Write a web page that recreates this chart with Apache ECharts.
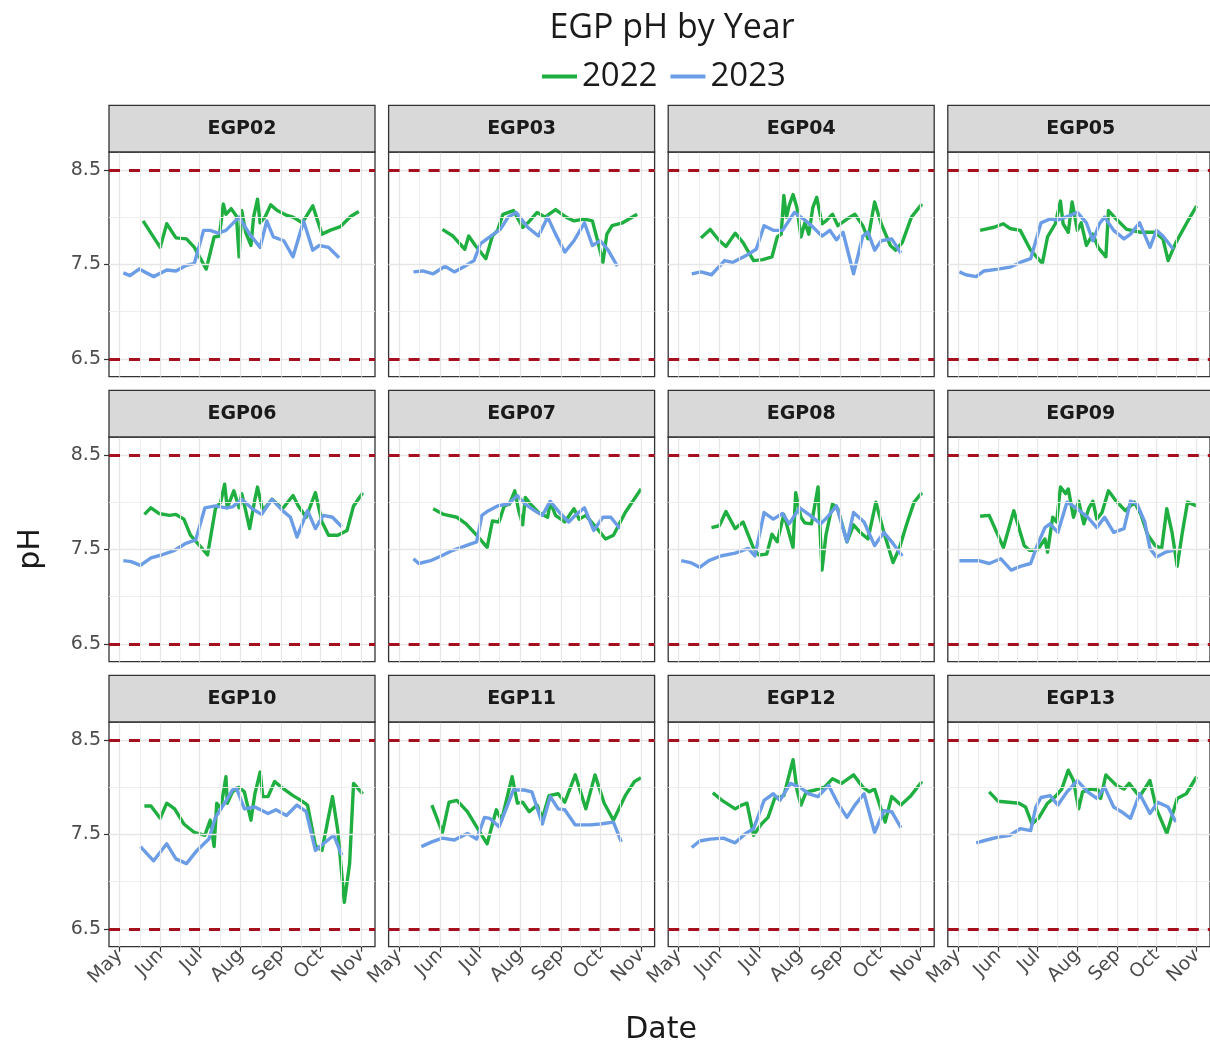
<!DOCTYPE html>
<html>
<head>
<meta charset="utf-8">
<script src="https://cdn.jsdelivr.net/npm/echarts@6/dist/echarts.min.js"></script>
<style>
  html, body { margin: 0; padding: 0; background: #ffffff; }
  #chart { width: 1210px; height: 1049px; }
</style>
</head>
<body>
<div id="chart"></div>
<script>
// Sites (one facet each), years, axis ticks and reference limits
const sites = ['EGP02', 'EGP03', 'EGP04', 'EGP05', 'EGP06', 'EGP07',
               'EGP08', 'EGP09', 'EGP10', 'EGP11', 'EGP12', 'EGP13'];
const years = ['2022', '2023'];
const monthTicks = ['05-01', '06-01', '07-01', '08-01', '09-01', '10-01', '11-01'];
const monthNames = ['May', 'Jun', 'Jul', 'Aug', 'Sep', 'Oct', 'Nov'];
const yTicks = [6.5, 7.5, 8.5];
const yMinor = [7.0, 8.0];
const phLimits = [6.5, 8.5];

// pH readings, [month-day, pH]
const EGP02_2022 = [['05-19',7.96],['06-01',7.68],['06-06',7.93],['06-13',7.78],['06-21',7.77],['06-27',7.68],['07-06',7.45],['07-12',7.79],['07-16',7.80],['07-19',8.14],['07-21',8.03],['07-25',8.09],['07-29',8.01],['07-31',7.58],['08-02',8.07],['08-05',7.84],['08-09',7.70],['08-11',8.00],['08-14',8.19],['08-16',7.94],['08-20',8.01],['08-24',8.13],['08-29',8.07],['09-05',8.02],['09-10',8.00],['09-17',7.94],['09-25',8.12],['10-02',7.82],['10-08',7.86],['10-16',7.90],['10-24',8.01],['10-30',8.06]];
const EGP02_2023 = [['05-04',7.41],['05-09',7.38],['05-16',7.45],['05-27',7.37],['06-06',7.44],['06-13',7.43],['06-21',7.49],['06-27',7.51],['07-04',7.86],['07-09',7.86],['07-15',7.83],['07-21',7.86],['07-31',8.00],['08-08',7.82],['08-16',7.68],['08-21',7.96],['08-26',7.79],['09-03',7.75],['09-10',7.58],['09-18',7.96],['09-25',7.65],['09-30',7.70],['10-07',7.68],['10-15',7.57]];

const EGP03_2022 = [['06-03',7.87],['06-11',7.80],['06-20',7.66],['06-23',7.80],['06-28',7.70],['07-06',7.56],['07-11',7.80],['07-15',7.86],['07-19',8.03],['07-27',8.07],['08-03',7.89],['08-07',7.94],['08-14',8.05],['08-20',8.00],['08-28',8.08],['09-05',8.00],['09-11',7.96],['09-19',7.98],['09-25',7.96],['09-29',7.75],['10-03',7.52],['10-06',7.82],['10-10',7.91],['10-18',7.94],['10-29',8.03]];
const EGP03_2023 = [['05-12',7.42],['05-19',7.43],['05-27',7.40],['06-05',7.48],['06-12',7.42],['06-20',7.48],['06-27',7.54],['07-02',7.72],['07-09',7.79],['07-17',7.87],['07-23',8.00],['07-29',8.05],['08-07',7.89],['08-15',7.80],['08-22',8.00],['08-28',7.82],['09-04',7.63],['09-11',7.75],['09-19',7.94],['09-25',7.70],['10-01',7.75],['10-07',7.65],['10-14',7.48]];

const EGP04_2022 = [['05-18',7.78],['05-25',7.87],['06-01',7.75],['06-06',7.69],['06-13',7.83],['06-19',7.73],['06-27',7.54],['07-04',7.55],['07-11',7.58],['07-15',7.79],['07-18',7.82],['07-20',8.23],['07-22',8.00],['07-24',8.12],['07-27',8.24],['07-30',8.10],['08-02',7.79],['08-05',7.94],['08-08',7.82],['08-11',8.10],['08-14',8.21],['08-18',7.93],['08-21',7.96],['08-26',8.03],['08-30',7.91],['09-06',7.98],['09-12',8.03],['09-18',7.91],['09-22',7.77],['09-27',8.16],['10-02',7.93],['10-09',7.70],['10-13',7.65],['10-18',7.73],['10-25',8.00],['11-02',8.14]];
const EGP04_2023 = [['05-11',7.40],['05-18',7.42],['05-26',7.39],['06-05',7.54],['06-11',7.52],['06-21',7.59],['06-29',7.66],['07-05',7.91],['07-12',7.86],['07-19',7.86],['07-28',8.05],['08-04',7.98],['08-10',7.91],['08-18',7.80],['08-24',7.86],['08-29',7.76],['09-03',7.84],['09-11',7.40],['09-18',7.80],['09-22',7.84],['09-27',7.65],['10-02',7.75],['10-10',7.77],['10-17',7.62]];

const EGP05_2022 = [['05-18',7.86],['05-28',7.89],['06-05',7.93],['06-10',7.88],['06-18',7.86],['06-26',7.65],['07-05',7.51],['07-09',7.79],['07-15',7.93],['07-19',8.17],['07-21',7.93],['07-25',7.84],['07-28',8.16],['08-01',7.86],['08-04',7.94],['08-08',7.70],['08-13',7.82],['08-17',7.68],['08-23',7.58],['08-25',8.07],['08-31',7.98],['09-08',7.87],['09-19',7.84],['09-30',7.84],['10-06',7.77],['10-10',7.54],['10-16',7.73],['10-24',7.93],['11-01',8.12]];
const EGP05_2023 = [['05-02',7.42],['05-07',7.39],['05-15',7.37],['05-21',7.43],['06-01',7.45],['06-10',7.47],['06-18',7.52],['06-26',7.56],['06-30',7.75],['07-04',7.94],['07-11',7.98],['07-17',7.97],['07-25',8.01],['08-01',8.05],['08-08',7.94],['08-13',7.75],['08-18',7.93],['08-22',8.00],['08-29',7.86],['09-06',7.77],['09-11',7.82],['09-18',7.94],['09-26',7.68],['10-01',7.86],['10-06',7.80],['10-14',7.66]];

const EGP06_2022 = [['05-20',7.87],['05-25',7.94],['05-31',7.88],['06-08',7.86],['06-13',7.87],['06-19',7.82],['06-24',7.65],['07-01',7.54],['07-07',7.44],['07-13',7.93],['07-17',8.00],['07-20',8.19],['07-22',7.94],['07-27',8.12],['07-31',7.94],['08-02',8.09],['08-05',7.91],['08-08',7.72],['08-12',8.03],['08-14',8.16],['08-18',7.91],['08-25',8.03],['09-02',7.93],['09-10',8.07],['09-14',7.96],['09-20',7.84],['09-27',8.10],['10-02',7.79],['10-07',7.65],['10-14',7.65],['10-21',7.70],['10-26',7.96],['11-02',8.10]];
const EGP06_2023 = [['05-04',7.38],['05-10',7.37],['05-17',7.33],['05-25',7.41],['06-02',7.44],['06-12',7.49],['06-20',7.56],['06-28',7.60],['07-05',7.94],['07-13',7.96],['07-21',7.94],['07-26',7.95],['08-02',8.03],['08-10',7.93],['08-17',7.87],['08-25',8.03],['09-02',7.91],['09-08',7.84],['09-13',7.63],['09-21',7.91],['09-27',7.72],['10-03',7.86],['10-10',7.84],['10-17',7.74]];

const EGP07_2022 = [['05-27',7.93],['06-04',7.87],['06-14',7.84],['06-21',7.77],['06-29',7.65],['07-07',7.52],['07-11',7.80],['07-16',7.79],['07-20',7.96],['07-24',7.98],['07-28',8.12],['07-31',7.91],['08-03',7.76],['08-05',8.05],['08-09',7.98],['08-15',7.89],['08-22',7.84],['08-24',8.00],['08-28',7.86],['09-04',7.79],['09-11',7.93],['09-15',7.82],['09-20',7.86],['09-28',7.73],['10-05',7.61],['10-11',7.65],['10-20',7.89],['11-01',8.14]];
const EGP07_2023 = [['05-12',7.40],['05-16',7.35],['05-25',7.38],['06-02',7.43],['06-11',7.49],['06-21',7.54],['06-29',7.58],['07-03',7.86],['07-08',7.91],['07-15',7.96],['07-23',7.98],['07-30',8.07],['08-05',7.98],['08-12',7.91],['08-18',7.86],['08-24',8.01],['08-31',7.89],['09-07',7.79],['09-12',7.86],['09-19',7.94],['09-26',7.70],['10-03',7.84],['10-09',7.84],['10-16',7.72]];

const EGP08_2022 = [['05-26',7.73],['06-01',7.75],['06-06',7.90],['06-13',7.72],['06-19',7.79],['06-27',7.51],['07-01',7.44],['07-07',7.45],['07-11',7.66],['07-15',7.58],['07-20',7.87],['07-27',7.52],['07-29',8.10],['08-02',7.84],['08-05',7.78],['08-10',7.77],['08-15',8.16],['08-18',7.28],['08-21',7.65],['08-26',7.98],['08-30',7.93],['09-06',7.58],['09-11',7.76],['09-16',7.68],['09-22',7.61],['09-28',8.00],['10-04',7.68],['10-11',7.36],['10-16',7.52],['10-21',7.75],['10-27',8.00],['11-02',8.10]];
const EGP08_2023 = [['05-03',7.38],['05-10',7.36],['05-17',7.31],['05-24',7.38],['06-02',7.43],['06-13',7.46],['06-23',7.51],['06-28',7.43],['07-05',7.89],['07-12',7.82],['07-19',7.88],['07-24',7.77],['08-01',7.94],['08-09',7.86],['08-17',7.77],['08-22',7.84],['08-29',7.96],['09-06',7.58],['09-11',7.89],['09-19',7.79],['09-27',7.54],['10-04',7.68],['10-10',7.58],['10-18',7.43]];

const EGP09_2022 = [['05-18',7.85],['05-25',7.86],['06-05',7.52],['06-13',7.91],['06-21',7.54],['06-25',7.49],['07-01',7.49],['07-07',7.61],['07-09',7.47],['07-13',7.84],['07-16',7.79],['07-19',8.16],['07-23',8.09],['07-25',8.14],['07-29',7.84],['08-02',8.01],['08-06',7.77],['08-10',7.94],['08-13',8.01],['08-16',7.82],['08-20',7.89],['08-25',8.12],['08-31',8.01],['09-07',7.91],['09-14',8.00],['09-19',7.87],['09-24',7.66],['09-30',7.54],['10-05',7.51],['10-09',7.93],['10-13',7.68],['10-17',7.32],['10-21',7.68],['10-25',8.00],['11-01',7.96]];
const EGP09_2023 = [['05-02',7.38],['05-09',7.38],['05-17',7.38],['05-25',7.35],['06-03',7.40],['06-11',7.28],['06-18',7.32],['06-26',7.35],['07-01',7.54],['07-07',7.73],['07-11',7.77],['07-17',7.68],['07-24',8.00],['07-31',7.94],['08-09',7.84],['08-16',7.73],['08-22',7.84],['08-29',7.68],['09-06',7.72],['09-11',8.01],['09-16',7.98],['09-22',7.79],['09-26',7.51],['10-01',7.42],['10-08',7.47],['10-14',7.49]];

const EGP10_2022 = [['05-20',7.80],['05-25',7.80],['06-01',7.67],['06-06',7.83],['06-12',7.77],['06-19',7.61],['06-27',7.52],['07-05',7.49],['07-09',7.65],['07-12',7.37],['07-14',7.83],['07-17',7.77],['07-21',8.11],['07-22',7.83],['07-26',7.95],['07-31',8.00],['08-04',7.95],['08-09',7.65],['08-12',7.93],['08-16',8.16],['08-18',7.90],['08-22',7.90],['08-27',8.06],['09-02',7.99],['09-10',7.91],['09-16',7.86],['09-21',7.81],['09-27',7.38],['10-02',7.33],['10-10',7.90],['10-14',7.54],['10-19',6.78],['10-23',7.19],['10-26',8.04],['11-02',7.93]];
const EGP10_2023 = [['05-17',7.37],['05-27',7.22],['06-06',7.40],['06-13',7.24],['06-21',7.19],['06-29',7.33],['07-08',7.45],['07-13',7.68],['07-20',7.83],['07-26',7.97],['07-29',7.99],['08-04',7.77],['08-12',7.79],['08-22',7.72],['08-28',7.76],['09-05',7.70],['09-13',7.81],['09-20',7.74],['09-27',7.33],['10-03',7.40],['10-11',7.49],['10-17',7.28]];

const EGP11_2022 = [['05-26',7.81],['06-03',7.52],['06-08',7.84],['06-14',7.86],['06-22',7.74],['06-29',7.58],['07-07',7.40],['07-14',7.76],['07-18',7.65],['07-26',8.11],['07-30',7.83],['08-03',7.84],['08-08',7.74],['08-14',7.81],['08-18',7.67],['08-23',7.91],['08-30',7.93],['09-04',7.84],['09-12',8.13],['09-20',7.77],['09-27',8.13],['10-04',7.83],['10-11',7.65],['10-20',7.91],['10-27',8.06],['11-01',8.10]];
const EGP11_2023 = [['05-18',7.37],['05-26',7.42],['06-03',7.46],['06-12',7.44],['06-22',7.51],['06-29',7.45],['07-05',7.68],['07-09',7.67],['07-16',7.58],['07-22',7.79],['07-27',7.97],['08-04',7.97],['08-10',7.95],['08-18',7.61],['08-24',7.90],['08-30',7.77],['09-04',7.76],['09-12',7.60],['09-23',7.60],['10-01',7.61],['10-11',7.63],['10-17',7.42]];

const EGP12_2022 = [['05-27',7.94],['06-03',7.86],['06-13',7.77],['06-18',7.81],['06-22',7.83],['06-27',7.49],['07-03',7.61],['07-08',7.68],['07-13',7.88],['07-20',7.91],['07-27',8.29],['07-30',7.97],['08-02',7.81],['08-06',7.95],['08-13',7.97],['08-20',8.00],['08-26',8.09],['09-02',8.04],['09-11',8.13],['09-18',8.00],['09-23',7.95],['09-27',7.98],['10-05',7.63],['10-10',7.90],['10-17',7.81],['10-24',7.90],['11-02',8.06]];
const EGP12_2023 = [['05-11',7.36],['05-17',7.43],['05-25',7.45],['06-04',7.46],['06-13',7.41],['06-21',7.51],['06-27',7.56],['07-05',7.86],['07-12',7.93],['07-17',7.86],['07-25',8.04],['08-01',8.00],['08-08',7.93],['08-15',7.90],['08-23',8.02],['08-30',7.83],['09-06',7.68],['09-12',7.81],['09-19',7.93],['09-27',7.52],['10-04',7.75],['10-10',7.74],['10-17',7.57]];

const EGP13_2022 = [['05-25',7.95],['06-01',7.85],['06-09',7.84],['06-17',7.83],['06-22',7.79],['06-27',7.61],['07-02',7.67],['07-09',7.83],['07-15',7.90],['07-20',7.98],['07-25',8.18],['07-29',8.07],['08-02',7.77],['08-05',7.95],['08-11',7.98],['08-17',7.97],['08-19',7.88],['08-23',8.13],['08-31',8.02],['09-06',7.98],['09-10',8.04],['09-18',7.90],['09-26',8.07],['10-01',7.77],['10-09',7.51],['10-17',7.88],['10-24',7.93],['11-01',8.11]];
const EGP13_2023 = [['05-15',7.41],['05-23',7.44],['06-01',7.47],['06-10',7.49],['06-18',7.56],['06-26',7.54],['06-30',7.79],['07-04',7.89],['07-11',7.91],['07-17',7.81],['07-24',7.95],['08-01',8.07],['08-09',7.95],['08-16',7.88],['08-22',8.00],['08-29',7.79],['09-04',7.74],['09-11',7.67],['09-18',7.93],['09-26',7.72],['10-02',7.84],['10-10',7.79],['10-16',7.63]];

const readings = {
  EGP02: [EGP02_2022, EGP02_2023], EGP03: [EGP03_2022, EGP03_2023],
  EGP04: [EGP04_2022, EGP04_2023], EGP05: [EGP05_2022, EGP05_2023],
  EGP06: [EGP06_2022, EGP06_2023], EGP07: [EGP07_2022, EGP07_2023],
  EGP08: [EGP08_2022, EGP08_2023], EGP09: [EGP09_2022, EGP09_2023],
  EGP10: [EGP10_2022, EGP10_2023], EGP11: [EGP11_2022, EGP11_2023],
  EGP12: [EGP12_2022, EGP12_2023], EGP13: [EGP13_2022, EGP13_2023]
};

// ---- styling and facet layout ----
const yearColors = ['#1fae40', '#6b9ce6'];
const limitColor = '#a50f1e';
const borderColor = '#333333';
const textDark = '#1a1a1a';
const tickText = '#4d4d4d';
const sansFont = '"DejaVu Sans", "Liberation Sans", sans-serif';
const titleFont = '"Open Sans", "Noto Sans", sans-serif';

const nCols = 4;
const panelLeft0 = 109, panelPitchX = 279.6, panelW = 266;
const panelTop0 = 152, panelPitchY = 285, panelH = 224.7;
const stripH = 46.7;

// Month-day string -> day of year (common season axis for both years)
const JAN1 = Date.UTC(2022, 0, 1);
function dayOf(md) {
  const [m, d] = md.split('-').map(Number);
  return (Date.UTC(2022, m - 1, d) - JAN1) / 864e5;
}

const monthDays = monthTicks.map(dayOf);
const midDays = monthDays.slice(1).map((v, i) => (v + monthDays[i]) / 2);
const xMin = monthDays[0] - 7.9;
const xMax = monthDays[monthDays.length - 1] + 10.3;
const yMin = 6.31, yMax = 8.69;

const grids = [], xAxes = [], yAxes = [], series = [], graphics = [];

sites.forEach((site, i) => {
  const col = i % nCols, row = Math.floor(i / nCols);
  const left = panelLeft0 + col * panelPitchX;
  const top = panelTop0 + row * panelPitchY;
  const isBottom = row === Math.floor((sites.length - 1) / nCols);
  const isLeft = col === 0;

  grids.push({
    left: left, top: top, width: panelW, height: panelH,
    show: true, backgroundColor: '#ffffff',
    borderColor: borderColor, borderWidth: 1.3
  });

  xAxes.push({
    type: 'value', gridIndex: i, min: xMin, max: xMax,
    axisLine: { show: false },
    splitLine: { show: false },
    axisTick: {
      show: isBottom, length: 5, customValues: monthDays,
      lineStyle: { color: borderColor, width: 1.2 }
    },
    axisLabel: {
      show: isBottom, customValues: monthDays, rotate: 45, margin: 6,
      fontFamily: sansFont, fontSize: 19, color: tickText,
      formatter: v => monthNames[monthDays.findIndex(m => Math.abs(m - v) < 0.01)]
    }
  });

  yAxes.push({
    type: 'value', gridIndex: i, min: yMin, max: yMax,
    axisLine: { show: false },
    splitLine: { show: false },
    axisTick: {
      show: isLeft, length: 5, customValues: yTicks,
      lineStyle: { color: borderColor, width: 1.2 }
    },
    axisLabel: {
      show: isLeft, customValues: yTicks, margin: 8,
      fontFamily: sansFont, fontSize: 19, color: tickText,
      formatter: v => v.toFixed(1)
    }
  });

  // panel background grid: months (major), mid-months (minor), pH grid
  const gridLines = [];
  monthDays.forEach(v => gridLines.push({ xAxis: v, lineStyle: { color: '#e6e6e6', width: 1.3, type: 'solid' } }));
  midDays.forEach(v => gridLines.push({ xAxis: v, lineStyle: { color: '#ececec', width: 0.9, type: 'solid' } }));
  yTicks.forEach(v => gridLines.push({ yAxis: v, lineStyle: { color: '#e6e6e6', width: 1.3, type: 'solid' } }));
  yMinor.forEach(v => gridLines.push({ yAxis: v, lineStyle: { color: '#ececec', width: 0.9, type: 'solid' } }));
  series.push({
    type: 'line', xAxisIndex: i, yAxisIndex: i, data: [], silent: true, z: 1,
    markLine: { silent: true, symbol: ['none', 'none'], label: { show: false },
      animation: false, data: gridLines }
  });

  // pH readings per year
  readings[site].forEach((rows, k) => {
    series.push({
      name: years[k], type: 'line', xAxisIndex: i, yAxisIndex: i, z: 3 + k,
      showSymbol: false, symbol: 'none', clip: true,
      itemStyle: { color: yearColors[k] },
      lineStyle: { color: yearColors[k], width: 3.4, join: 'round' },
      data: rows.map(r => [dayOf(r[0]), r[1]])
    });
  });

  // acceptable pH range limits
  series.push({
    type: 'line', xAxisIndex: i, yAxisIndex: i, data: [], silent: true, z: 2,
    markLine: { silent: true, symbol: ['none', 'none'], label: { show: false }, animation: false,
      data: phLimits.map(v => ({ yAxis: v,
        lineStyle: { color: limitColor, width: 2.8, type: [11, 9] } })) }
  });

  // facet strip
  graphics.push({
    type: 'rect', z: 10,
    shape: { x: left, y: top - stripH, width: panelW, height: stripH },
    style: { fill: '#d9d9d9', stroke: borderColor, lineWidth: 1.3 }
  });
  graphics.push({
    type: 'text', z: 11, x: left + panelW / 2, y: top - stripH / 2,
    style: { text: site, fill: textDark, font: 'bold 19px ' + sansFont,
      align: 'center', verticalAlign: 'middle' }
  });
});

// axis titles
graphics.push({
  type: 'text', z: 11, x: 31, y: 549, rotation: Math.PI / 2,
  style: { text: 'pH', fill: textDark, font: '30px ' + sansFont,
    align: 'center', verticalAlign: 'middle' }
});
graphics.push({
  type: 'text', z: 11, x: 661, y: 1030,
  style: { text: 'Date', fill: textDark, font: '30px ' + sansFont,
    align: 'center', verticalAlign: 'middle' }
});

const chart = echarts.init(document.getElementById('chart'), null, { renderer: 'canvas' });
chart.setOption({
  animation: false,
  backgroundColor: '#ffffff',
  title: {
    text: 'EGP pH by Year', left: 667, top: 6, textAlign: 'center',
    textStyle: { fontFamily: titleFont, fontSize: 34, fontWeight: 'normal', color: textDark }
  },
  legend: {
    data: years, left: 537, top: 55, icon: 'rect',
    itemWidth: 35, itemHeight: 4, itemGap: 13,
    textStyle: { fontFamily: titleFont, fontSize: 33, color: textDark }
  },
  grid: grids,
  xAxis: xAxes,
  yAxis: yAxes,
  series: series,
  graphic: graphics
});
</script>
</body>
</html>
